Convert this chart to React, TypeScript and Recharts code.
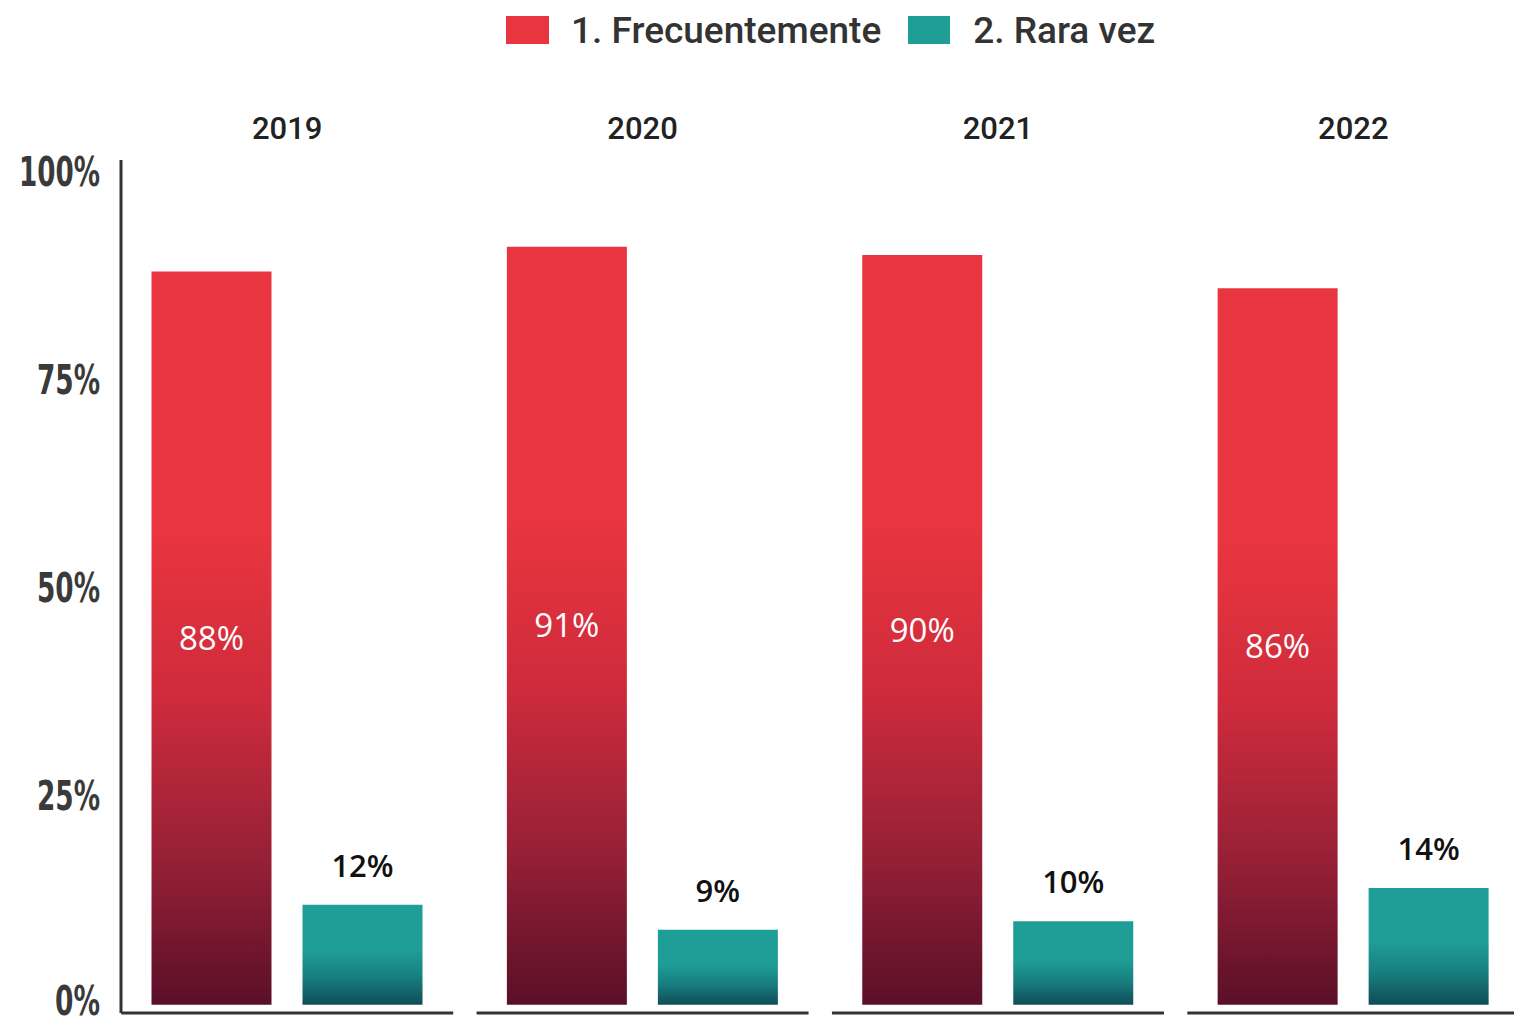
import React from 'react';
import { BarChart, Bar, XAxis, YAxis, Legend, LabelList } from 'recharts';

const years = ['2019', '2020', '2021', '2022'];
const frecuentemente = [88, 91, 90, 86];
const raraVez = [12, 9, 10, 14];
const yTicks = [0, 25, 50, 75, 100];
const seriesNames = ['1. Frecuentemente', '2. Rara vez'];

const RED = '#e8353f';
const TEAL = '#1f9e98';

const data = years.map((y, i) => ({ year: y, f: frecuentemente[i], r: raraVez[i] }));

const YTick = (props: any) => {
  const { x, y, payload } = props;
  const s = `${payload.value}%`;
  const len = String(payload.value).length * 18 + 27;
  const shift = payload.value === 0 ? -4 : 0;
  return (
    <text x={x} y={y + shift} textAnchor="end" dominantBaseline="central" fill="#3a3a3a"
      fontFamily="'Liberation Sans Narrow', 'DejaVu Sans Condensed', Roboto, sans-serif"
      fontWeight={700} fontSize={40} textLength={len} lengthAdjust="spacingAndGlyphs">
      {s}
    </text>
  );
};

const TopTick = (props: any) => {
  const { x, y, payload } = props;
  return (
    <text x={x} y={y - 32} textAnchor="middle" dominantBaseline="central" fill="#222"
      fontFamily="Roboto, sans-serif" fontWeight={500} fontSize={31}>
      {payload.value}
    </text>
  );
};

const BottomTick = (props: any) => {
  const { x, y } = props;
  return <line x1={x - 166} x2={x + 166} y1={y} y2={y} stroke="#333" strokeWidth={3} />;
};

const renderLegend = () => (
  <div style={{ display: 'flex', alignItems: 'center', height: 60, paddingLeft: 506, fontFamily: 'Roboto, sans-serif', fontWeight: 500, fontSize: 37, color: '#333' }}>
    <span style={{ display: 'inline-block', width: 43, height: 28, background: RED, marginRight: 22 }} />
    <span style={{ marginRight: 27 }}>{seriesNames[0]}</span>
    <span style={{ display: 'inline-block', width: 42, height: 28, background: TEAL, marginRight: 23 }} />
    <span>{seriesNames[1]}</span>
  </div>
);

export default function App() {
  return (
    <div style={{ position: 'absolute', left: 0, top: 0, width: 1514, height: 1025, overflow: 'hidden', background: '#fff' }}>
      <BarChart width={1560} height={1025} data={data} margin={{ top: 40, right: 29, left: 0, bottom: 11 }}
        barSize={120} barGap={31}>
        <defs>
          <linearGradient id="redGrad" x1="0" y1="0" x2="0" y2="1">
            <stop offset="0%" stopColor={RED} />
            <stop offset="36%" stopColor={RED} />
            <stop offset="58%" stopColor="#cf2b3c" />
            <stop offset="80%" stopColor="#962036" />
            <stop offset="100%" stopColor="#5a1028" />
          </linearGradient>
          <linearGradient id="tealGrad" x1="0" y1="0" x2="0" y2="1">
            <stop offset="0%" stopColor={TEAL} />
            <stop offset="45%" stopColor={TEAL} />
            <stop offset="72%" stopColor="#177f7f" />
            <stop offset="100%" stopColor="#0f4d58" />
          </linearGradient>
        </defs>
        <Legend verticalAlign="top" content={renderLegend} wrapperStyle={{ top: 0, left: 0, width: 1514, height: 60 }} />
        <XAxis xAxisId="top" orientation="top" dataKey="year" height={60} axisLine={false} tickLine={false}
          tickSize={0} tickMargin={0} tick={<TopTick />} padding={{ left: -11.5, right: 0 }} />
        <XAxis dataKey="year" height={1} axisLine={false} tickLine={false} tickSize={0} tickMargin={0}
          tick={<BottomTick />} padding={{ left: -11.5, right: 0 }} />
        <YAxis width={121} domain={[-1, 101.4]} ticks={yTicks} axisLine={{ stroke: '#333', strokeWidth: 3 }}
          tickLine={false} tickSize={0} tickMargin={21} tick={<YTick />} interval={0} />
        <Bar dataKey="f" name={seriesNames[0]} fill="url(#redGrad)" isAnimationActive={false}>
          <LabelList dataKey="f" position="center" formatter={(v: any) => `${v}%`} fill="#fff"
            fontFamily="'Open Sans', sans-serif" fontSize={33} />
        </Bar>
        <Bar dataKey="r" name={seriesNames[1]} fill="url(#tealGrad)" isAnimationActive={false}>
          <LabelList dataKey="r" position="top" offset={28} formatter={(v: any) => `${v}%`} fill="#111"
            fontFamily="'Open Sans', sans-serif" fontWeight={600} fontSize={31} />
        </Bar>
      </BarChart>
    </div>
  );
}
